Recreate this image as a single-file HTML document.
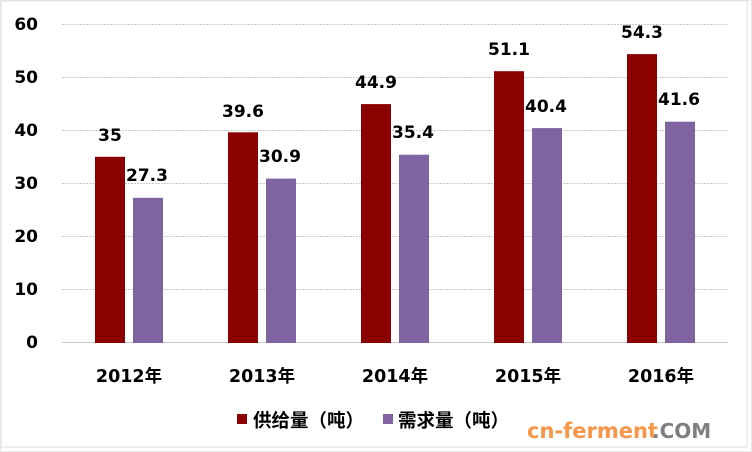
<!DOCTYPE html>
<html><head><meta charset="utf-8"><style>
html,body{margin:0;padding:0;background:#fff}
svg{display:block}
text{font-family:"DejaVu Sans","Noto Sans CJK SC",sans-serif;font-weight:bold;fill:#000}
</style></head><body>
<svg width="752" height="452" viewBox="0 0 752 452" xmlns="http://www.w3.org/2000/svg">
<rect x="0.5" y="0.5" width="751" height="451" fill="#fff" stroke="#d0d0d0" stroke-dasharray="1 1"/>
<rect x="1" y="1" width="746" height="446" fill="#fff" stroke="#e0e0e0" stroke-width="1"/>
<g stroke="#c8c8c8" stroke-width="1" stroke-dasharray="2 1">
<line x1="62" y1="24.5" x2="728" y2="24.5"/>
<line x1="62" y1="77.5" x2="728" y2="77.5"/>
<line x1="62" y1="130.5" x2="728" y2="130.5"/>
<line x1="62" y1="183.5" x2="728" y2="183.5"/>
<line x1="62" y1="236.5" x2="728" y2="236.5"/>
<line x1="62" y1="289.5" x2="728" y2="289.5"/>
</g>
<line x1="62" y1="342.5" x2="728" y2="342.5" stroke="#c8c8c8"/>
<g font-size="17" text-anchor="end">
<text x="38" y="30">60</text><text x="38" y="83">50</text><text x="38" y="136">40</text>
<text x="38" y="189">30</text><text x="38" y="242">20</text><text x="38" y="295">10</text><text x="38" y="348">0</text>
</g>
<g fill="#8b0000">
<rect x="95" y="156.8" width="30" height="186.2"/>
<rect x="228" y="132.3" width="30" height="210.7"/>
<rect x="361" y="104.1" width="30" height="238.9"/>
<rect x="494" y="71.2" width="30" height="271.8"/>
<rect x="627" y="54.1" width="30" height="288.9"/>
</g>
<g fill="#8064a2">
<rect x="133" y="197.8" width="30" height="145.2"/>
<rect x="266" y="178.6" width="30" height="164.4"/>
<rect x="399" y="154.7" width="30" height="188.3"/>
<rect x="532" y="128.1" width="30" height="214.9"/>
<rect x="665" y="121.7" width="30" height="221.3"/>
</g>
<g font-size="17" text-anchor="middle">
<text x="110" y="141">35</text><text x="147" y="181">27.3</text>
<text x="243" y="117">39.6</text><text x="280" y="162">30.9</text>
<text x="376" y="88">44.9</text><text x="413" y="138">35.4</text>
<text x="509" y="55">51.1</text><text x="546" y="112">40.4</text>
<text x="642" y="38">54.3</text><text x="679" y="105">41.6</text>
</g>
<g font-size="17.5" text-anchor="middle">
<text x="129" y="382">2012年</text><text x="262" y="382">2013年</text><text x="395" y="382">2014年</text>
<text x="528" y="382">2015年</text><text x="661" y="382">2016年</text>
</g>
<rect x="237" y="414" width="10" height="10" fill="#8b0000"/>
<text x="253" y="427" font-size="18.5">供给量（吨）</text>
<rect x="383" y="414" width="10" height="10" fill="#8064a2"/>
<text x="398" y="427" font-size="18.5">需求量（吨）</text>
<text x="527" y="438" font-size="21" style="fill:#f79646">cn-ferment</text>
<text x="652" y="438" font-size="20" style="fill:#7f7f7f">.COM</text>
</svg>
</body></html>
